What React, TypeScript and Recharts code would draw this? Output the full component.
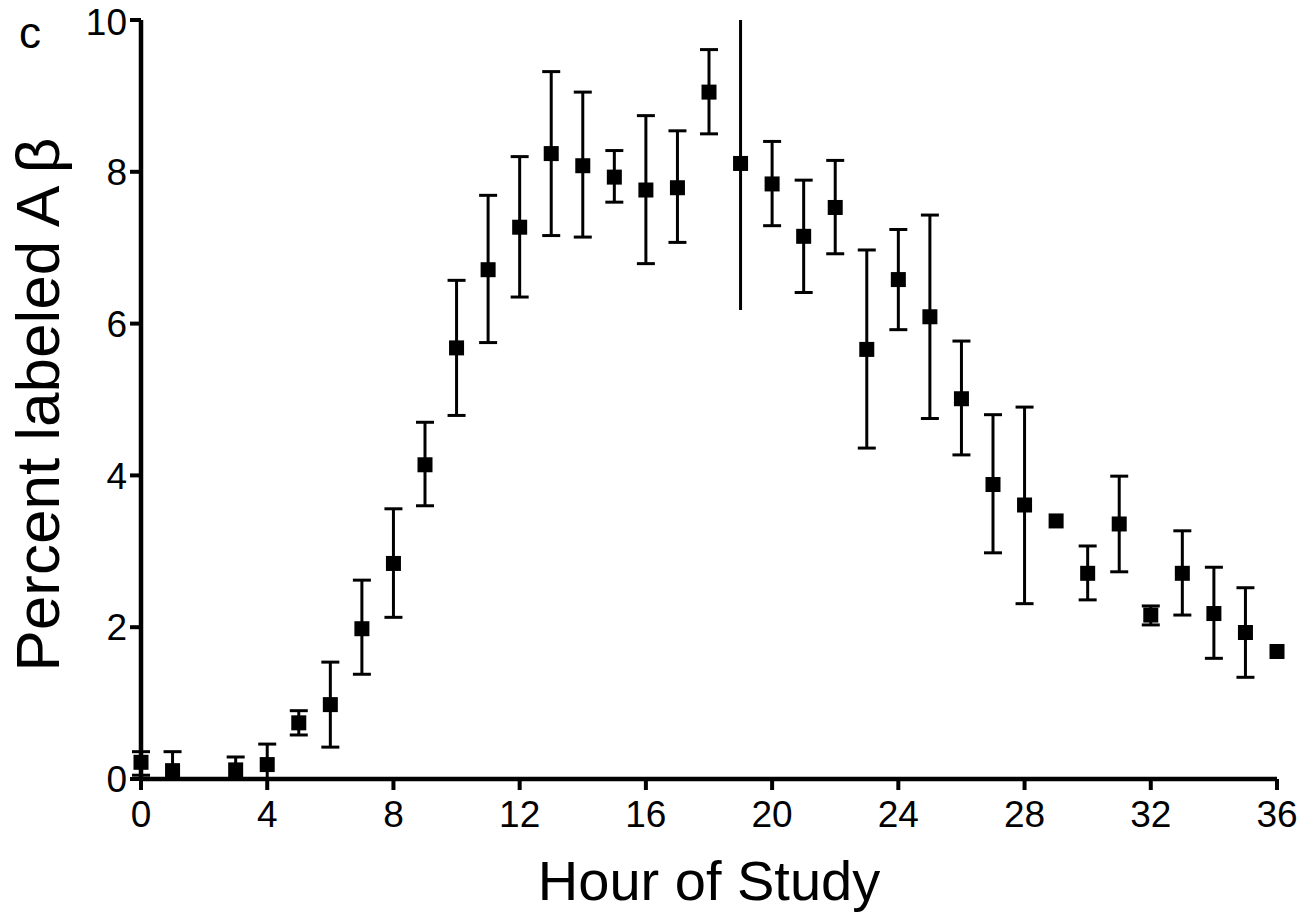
import { ErrorBar, Scatter, ScatterChart, XAxis, YAxis } from 'recharts'

// hour 2 was not sampled
const hours = [0, 1, 3, 4, 5, 6, 7, 8, 9, 10, 11, 12, 13, 14, 15, 16, 17, 18, 19, 20, 21, 22, 23, 24, 25, 26, 27, 28, 29, 30, 31, 32, 33, 34, 35, 36]
const means = [0.22, 0.11, 0.12, 0.19, 0.74, 0.98, 1.98, 2.84, 4.14, 5.68, 6.71, 7.27, 8.24, 8.08, 7.93, 7.76, 7.79, 9.05, 8.11, 7.84, 7.15, 7.53, 5.66, 6.58, 6.09, 5.01, 3.88, 3.61, 3.4, 2.71, 3.36, 2.16, 2.71, 2.18, 1.93, 1.68]
const uppers = [0.36, 0.36, 0.29, 0.46, 0.9, 1.54, 2.62, 3.56, 4.7, 6.57, 7.69, 8.2, 9.32, 9.05, 8.28, 8.74, 8.54, 9.61, 10, 8.4, 7.89, 8.15, 6.97, 7.24, 7.43, 5.77, 4.8, 4.9, null, 3.07, 3.99, 2.28, 3.27, 2.79, 2.52, null]
const lowers = [0.05, 0, 0, 0, 0.58, 0.42, 1.38, 2.13, 3.6, 4.79, 5.75, 6.35, 7.16, 7.14, 7.6, 6.79, 7.07, 8.5, 6.18, 7.29, 6.41, 6.92, 4.36, 5.92, 4.75, 4.27, 2.98, 2.31, null, 2.36, 2.73, 2.03, 2.16, 1.59, 1.34, null]
// upper whisker runs off the top of the axis, so no cap is drawn
const clippedHours = [19]

const xTicks = [0, 4, 8, 12, 16, 20, 24, 28, 32, 36]
const yTicks = [0, 2, 4, 6, 8, 10]

const FONT = '"Liberation Sans", Arial, Helvetica, sans-serif'

interface Row {
  hour: number
  mean: number
  err: [number, number] | null
}

const rows: Row[] = hours.map((h, i) => ({
  hour: h,
  mean: means[i],
  err:
    uppers[i] == null || lowers[i] == null
      ? null
      : [means[i] - (lowers[i] as number), (uppers[i] as number) - means[i]],
}))

const capped = rows.filter((r) => r.err && !clippedHours.includes(r.hour))
const uncapped = rows.filter((r) => r.err && clippedHours.includes(r.hour))
const bare = rows.filter((r) => !r.err)

const SquareDot = (p: any) => (
  <rect x={p.cx - 7.5} y={p.cy - 7.5} width={15} height={15} fill="#000" />
)

const XTitle = (p: any) => {
  const vb = p.viewBox
  return (
    <text
      x={vb.x + vb.width / 2}
      y={vb.y + 121}
      textAnchor="middle"
      fontFamily={FONT}
      fontSize={56}
      fill="#000"
    >
      Hour of Study
    </text>
  )
}

const YTitle = (p: any) => {
  const vb = p.viewBox
  const x = vb.x + 59
  const y = vb.y + vb.height / 2 + 5
  return (
    <text
      x={x}
      y={y}
      transform={`rotate(-90, ${x}, ${y})`}
      textAnchor="middle"
      fontFamily={FONT}
      fontSize={62}
      fill="#000"
    >
      Percent labeled A{'\u2009'}β
    </text>
  )
}

const axisStroke = { stroke: '#000', strokeWidth: 4.5 }
const tickLineStyle = { stroke: '#000', strokeWidth: 4 }
const tickStyle = { fill: '#000', fontSize: 37, fontFamily: FONT }

export default function App() {
  return (
    <div style={{ position: 'absolute', left: 0, top: 0, width: 1314, height: 913, background: '#fff' }}>
      <svg
        width={60}
        height={60}
        style={{ position: 'absolute', left: 0, top: 0 }}
      >
        <text x={19} y={48} fontFamily={FONT} fontSize={44} fill="#000">
          c
        </text>
      </svg>
      <ScatterChart
        width={1314}
        height={913}
        margin={{ top: 20, right: 37, bottom: 0, left: 0 }}
      >
        <XAxis
          type="number"
          dataKey="hour"
          domain={[0, 36]}
          ticks={xTicks}
          height={134}
          tickSize={11}
          tickMargin={11}
          axisLine={axisStroke}
          tickLine={tickLineStyle}
          tick={tickStyle}
          label={(p: any) => <XTitle {...p} />}
        />
        <YAxis
          type="number"
          dataKey="mean"
          domain={[0, 10]}
          ticks={yTicks}
          width={141}
          tickSize={11}
          tickMargin={3}
          axisLine={axisStroke}
          tickLine={tickLineStyle}
          tick={tickStyle}
          label={(p: any) => <YTitle {...p} />}
        />
        <Scatter data={capped} shape={SquareDot} isAnimationActive={false}>
          <ErrorBar dataKey="err" direction="y" width={9} strokeWidth={3} stroke="#000" />
        </Scatter>
        <Scatter data={uncapped} shape={SquareDot} isAnimationActive={false}>
          <ErrorBar dataKey="err" direction="y" width={0} strokeWidth={3} stroke="#000" />
        </Scatter>
        <Scatter data={bare} shape={SquareDot} isAnimationActive={false} />
      </ScatterChart>
    </div>
  )
}
